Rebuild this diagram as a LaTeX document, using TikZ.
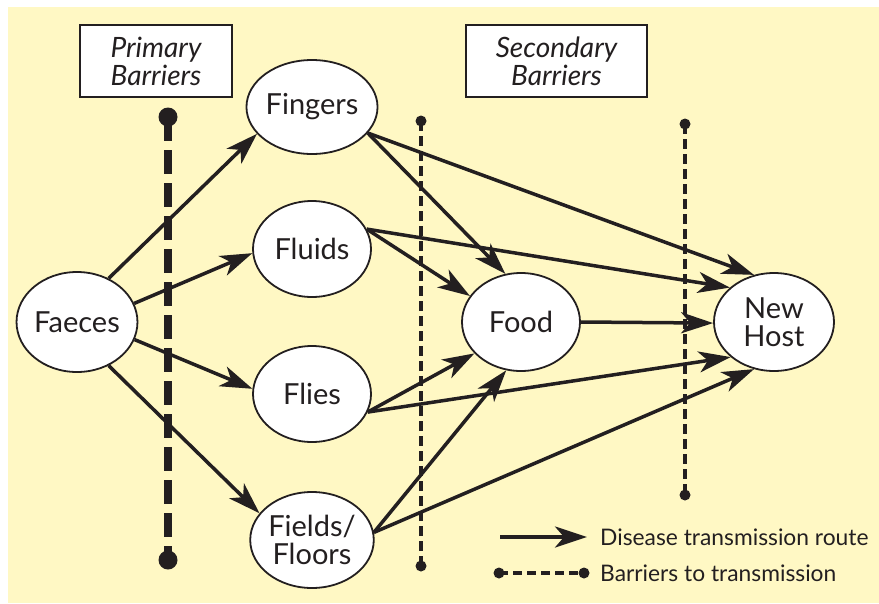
\documentclass[tikz,border=0pt]{standalone}
\usepackage{fontspec}
\setmainfont{Lato}
\usetikzlibrary{arrows.meta,shapes.geometric}
\definecolor{bg}{HTML}{FFF8C4}
\definecolor{ink}{HTML}{231F20}
\begin{document}
\begin{tikzpicture}[x=1pt,y=-1pt,
  blob/.style={ellipse,draw=ink,fill=white,line width=1.8pt,inner sep=0pt,align=center,
    font=\fontsize{29}{28}\selectfont,text=ink},
  labelbox/.style={rectangle,draw=ink,fill=white,line width=1.8pt,inner sep=0pt,align=center,
    minimum width=152pt,minimum height=72pt,font=\itshape\fontsize{28}{28}\selectfont,text=ink},
  route/.style={draw=ink,line width=3.5pt,-{Stealth[length=32pt,width=21pt,inset=9pt]}},
  bigbarrier/.style={draw=ink,line width=8pt,dash pattern=on 24pt off 9pt},
  smallbarrier/.style={draw=ink,line width=3.6pt,dash pattern=on 10pt off 5pt},
  legendtext/.style={anchor=west,inner sep=0pt,font=\fontsize{22.8}{26}\selectfont,text=ink}]
\useasboundingbox (0,0) rectangle (879,603);
\fill[white] (0,0) rectangle (879,603);
\fill[bg] (8,7) rectangle (879,603);

% barriers
\coordinate (p1) at (168,117); \coordinate (p2) at (168,560);
\coordinate (s1) at (421,121); \coordinate (s2) at (421,566);
\coordinate (t1) at (685,124); \coordinate (t2) at (685,495);
\draw[bigbarrier] (p1) -- (p2);
\fill[ink] (p1) circle (9.5pt) (p2) circle (9.5pt);
\draw[smallbarrier] (s1) -- (s2);
\fill[ink] (s1) circle (5.5pt) (s2) circle (5.5pt);
\draw[smallbarrier] (t1) -- (t2);
\fill[ink] (t1) circle (5.5pt) (t2) circle (5.5pt);

% label boxes
\node[labelbox] (prim) at (156,61) {Primary\\Barriers};
\node[labelbox,minimum width=181pt] (sec) at (556.5,61) {Secondary\\Barriers};

% nodes
\node[blob,minimum width=120pt,minimum height=100pt] (faeces) at (77,322) {Faeces};
\node[blob,minimum width=116pt,minimum height=94pt] (fingers) at (312,107) {Fingers};
\node[blob,minimum width=118pt,minimum height=96pt] (fluids) at (312,249) {Fluids};
\node[blob,minimum width=118pt,minimum height=96pt] (flies) at (312,394) {Flies};
\node[blob,minimum width=118pt,minimum height=96pt] (fields) at (312,540) {Fields/\\Floors};
\node[blob,minimum width=118pt,minimum height=98pt] (food) at (521,322) {Food};
\node[blob,minimum width=120pt,minimum height=98pt] (host) at (774,322) {New\\Host};

% routes
\draw[route] (faeces.54) -- (fingers.206);
\draw[route] (faeces.18) -- (fluids.184);
\draw[route] (faeces.-17) -- (flies.175);
\draw[route] (faeces.-54) -- (fields.153);
\draw[route] (fingers.-25) -- (food.108);
\draw[route] (fingers.-25) -- (host.113);
\draw[route] (fluids.20) -- (food.153);
\draw[route] (fluids.20) -- (host.142);
\draw[route] (food.0) -- (host.181);
\draw[route] (flies.-18) -- (food.214);
\draw[route] (flies.-18) -- (host.219);
\draw[route] (fields.7) -- (food.253);
\draw[route] (fields.7) -- (host.247);

% legend
\coordinate (la1) at (500,537); \coordinate (la2) at (587,537);
\draw[route] (la1) -- (la2);
\node[legendtext] (lt1) at (600,537) {Disease transmission route};
\coordinate (lb1) at (499,573); \coordinate (lb2) at (584,573);
\draw[smallbarrier,dash pattern=on 9pt off 5pt] (lb1) -- (lb2);
\fill[ink] (lb1) circle (5.5pt) (lb2) circle (5.5pt);
\node[legendtext] (lt2) at (600,573) {Barriers to transmission};
\end{tikzpicture}
\end{document}
